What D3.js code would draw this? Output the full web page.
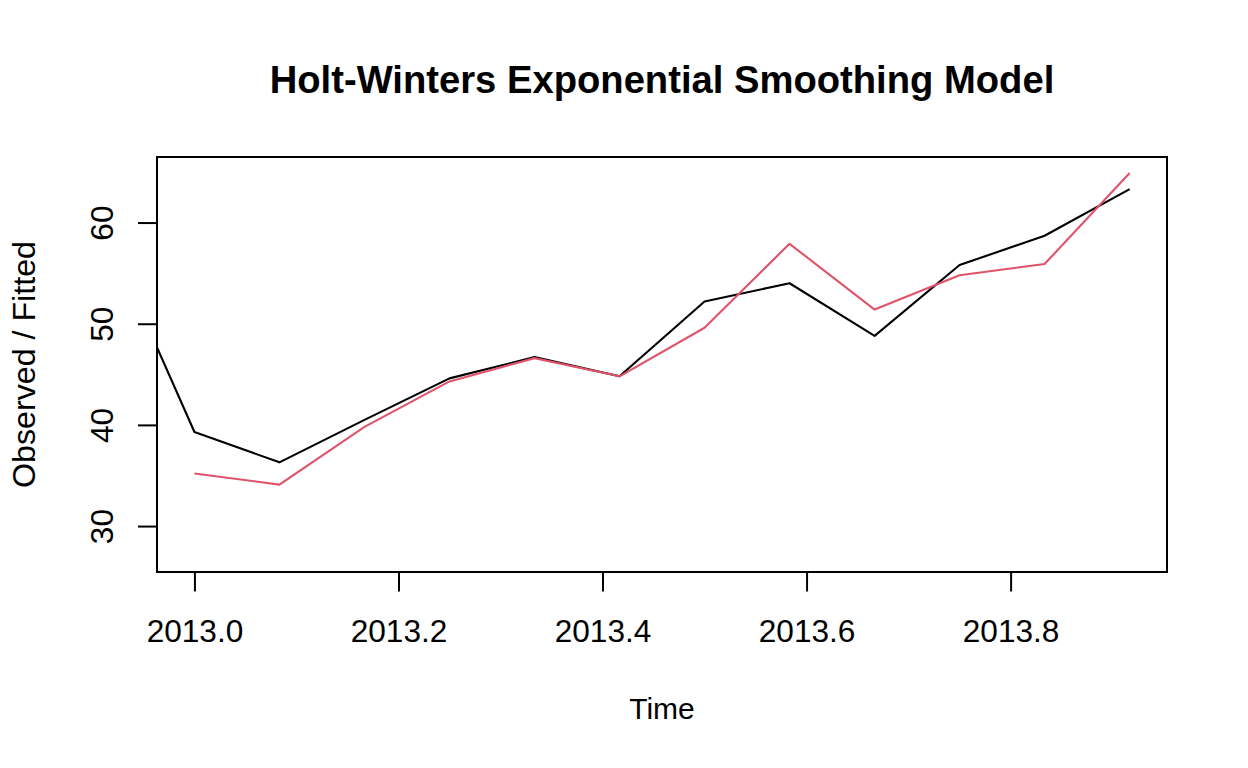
<!DOCTYPE html>
<html>
<head>
<meta charset="utf-8">
<script src="https://cdn.jsdelivr.net/npm/d3@7"></script>
<style>
  html, body { margin: 0; padding: 0; background: #ffffff; }
  svg { display: block; }
  text { font-family: "Liberation Sans", Arial, sans-serif; fill: #000; }
</style>
</head>
<body>
<svg id="chart" width="1248" height="768"></svg>
<script>
// ---- data ----
const obsTime = [2012.9167, 2013.0000, 2013.0833, 2013.1667, 2013.2500, 2013.3333, 2013.4167,
                 2013.5000, 2013.5833, 2013.6667, 2013.7500, 2013.8333, 2013.9167];
const observed = [58.3, 39.3, 36.3, 40.5, 44.6, 46.7, 44.8, 52.2, 54.0, 48.8, 55.8, 58.7, 63.3];

const fitTime = [2013.0000, 2013.0833, 2013.1667, 2013.2500, 2013.3333, 2013.4167,
                 2013.5000, 2013.5833, 2013.6667, 2013.7500, 2013.8333, 2013.9167];
const fitted = [35.2, 34.1, 39.8, 44.3, 46.6, 44.8, 49.6, 57.9, 51.4, 54.8, 55.9, 64.9];

const xTicks = [2013.0, 2013.2, 2013.4, 2013.6, 2013.8];
const yTicks = [30, 40, 50, 60];
const xDomain = [2012.9633, 2013.9533];
const yDomain = [25.46, 66.48];

const titleText = "Holt-Winters Exponential Smoothing Model";
const xLabel = "Time";
const yLabel = "Observed / Fitted";

// ---- layout ----
const svg = d3.select("#chart");
const W = 1248, H = 768;
svg.append("rect").attr("width", W).attr("height", H).attr("fill", "#fff");

const plot = { left: 157, right: 1167, top: 157, bottom: 572 };

const x = d3.scaleLinear().domain(xDomain).range([plot.left, plot.right]);
const y = d3.scaleLinear().domain(yDomain).range([plot.bottom, plot.top]);

svg.append("defs").append("clipPath").attr("id", "clip")
  .append("rect")
  .attr("x", plot.left).attr("y", plot.top)
  .attr("width", plot.right - plot.left).attr("height", plot.bottom - plot.top);

const line = d3.line().x(d => x(d[0])).y(d => y(d[1]));

const g = svg.append("g").attr("clip-path", "url(#clip)");
g.append("path")
  .datum(obsTime.map((t, i) => [t, observed[i]]))
  .attr("d", line)
  .attr("fill", "none").attr("stroke", "#000").attr("stroke-width", 2.1)
  .attr("stroke-linejoin", "round");
g.append("path")
  .datum(fitTime.map((t, i) => [t, fitted[i]]))
  .attr("d", line)
  .attr("fill", "none").attr("stroke", "#DF536B").attr("stroke-width", 2.1)
  .attr("stroke-linejoin", "round");

// box
svg.append("rect")
  .attr("x", plot.left).attr("y", plot.top)
  .attr("width", plot.right - plot.left).attr("height", plot.bottom - plot.top)
  .attr("fill", "none").attr("stroke", "#000").attr("stroke-width", 2);

// x axis
const xAxis = d3.axisBottom(x).tickValues(xTicks).tickSize(19.5).tickPadding(13)
  .tickFormat(d3.format(".1f"));
const gx = svg.append("g").attr("transform", `translate(0,${plot.bottom})`).call(xAxis);
gx.select(".domain").attr("d", `M${x(xTicks[0])},0H${x(xTicks[xTicks.length - 1])}`)
  .attr("stroke-width", 2);
gx.selectAll(".tick line").attr("stroke-width", 2);
gx.selectAll(".tick text").attr("font-size", "31.6px")
  .attr("font-family", "Liberation Sans, Arial, sans-serif")
  .attr("dy", null).attr("y", 69.7);

// y axis
const yAxis = d3.axisLeft(y).tickValues(yTicks).tickSize(19).tickPadding(0);
const gy = svg.append("g").attr("transform", `translate(${plot.left},0)`).call(yAxis);
gy.select(".domain").attr("d", `M0,${y(yTicks[0])}V${y(yTicks[yTicks.length - 1])}`)
  .attr("stroke-width", 2);
gy.selectAll(".tick line").attr("stroke-width", 2);
gy.selectAll(".tick text")
  .attr("font-size", "31.6px")
  .attr("font-family", "Liberation Sans, Arial, sans-serif")
  .attr("x", null).attr("dy", null)
  .attr("text-anchor", "middle")
  .attr("transform", "translate(-43.7,0) rotate(-90)");

// title
svg.append("text")
  .attr("x", (plot.left + plot.right) / 2).attr("y", 92.7)
  .attr("text-anchor", "middle")
  .attr("font-size", "38.2px").attr("font-weight", "bold")
  .text(titleText);

// axis labels
svg.append("text")
  .attr("x", (plot.left + plot.right) / 2).attr("y", 719)
  .attr("text-anchor", "middle").attr("font-size", "30px")
  .text(xLabel);

svg.append("text")
  .attr("transform", `translate(34.5,${(plot.top + plot.bottom) / 2}) rotate(-90)`)
  .attr("text-anchor", "middle").attr("font-size", "32.2px")
  .text(yLabel);
</script>
</body>
</html>
